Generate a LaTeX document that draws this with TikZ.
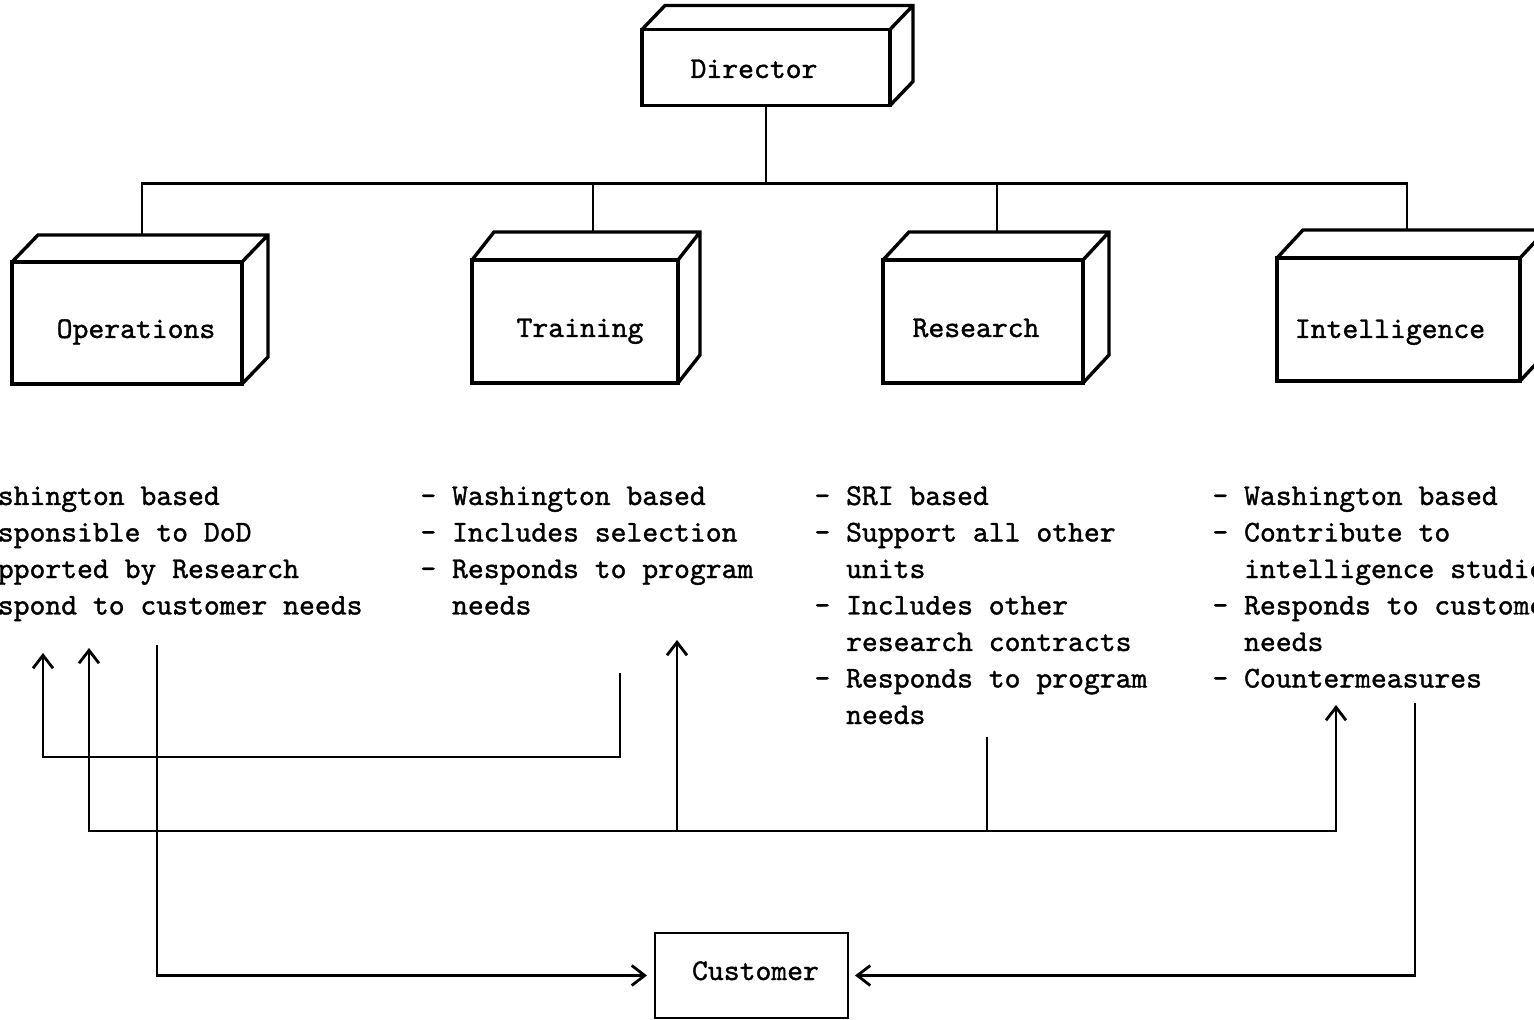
\documentclass[tikz,border=0pt]{standalone}
\usepackage{fontspec}
\newfontfamily\typew{lmmono10-regular.otf}[FakeBold=1.2]
\usetikzlibrary{arrows.meta,calc}
\newcommand\mkdepth[3]{\draw[boxline] (#1.north west) -- ++(#2,#3) -- ($(#1.north east)+(#2,#3)$) -- ($(#1.south east)+(#2,#3)$) -- (#1.south east) (#1.north east) -- ++(#2,#3);}
\begin{document}
\begin{tikzpicture}[x=0.5pt,y=-0.5pt,
  tt/.style={font=\typew\fontsize{15.1}{18.25}\selectfont},
  boxline/.style={line width=1.7pt,line join=miter},
  unitbox/.style={draw,boxline,tt,inner sep=0pt,outer sep=0pt,text depth=0pt},
  block/.style={tt,anchor=base west,inner sep=0pt},
  conn/.style={line width=1.4pt},
  arr/.style={conn,-{Straight Barb[length=6.5pt,width=10pt,line width=1.4pt]}}]
\useasboundingbox (0,0) rectangle (1534,1020);
\clip (0,0) rectangle (1534,1020);

% unit boxes (front faces)
\node[unitbox,minimum width=124pt,minimum height=38pt,text height=10.5pt] (dir) at (766,67.5) {Director\hspace*{12pt}};
\node[unitbox,minimum width=115pt,minimum height=61pt,text height=15pt] (ops) at (127,323) {\hspace*{9pt}Operations};
\node[unitbox,minimum width=103pt,minimum height=61.5pt,text height=15.5pt] (trn) at (575,321.5) {\hspace*{5pt}Training};
\node[unitbox,minimum width=100pt,minimum height=61.5pt,text height=15.5pt] (res) at (983,321.5) {Research\hspace*{7pt}};
\node[unitbox,minimum width=121.5pt,minimum height=61.5pt,text height=18.5pt] (intl) at (1398.5,319.5) {Intelligence\hspace*{8.5pt}};
\node[draw,conn,tt,inner sep=0pt,outer sep=0pt,text depth=0pt,minimum width=96.5pt,minimum height=42.5pt,text height=4.5pt] (cust) at (751.5,975.5) {\hspace*{4pt}Customer};

% 3-D depth faces
\mkdepth{dir}{23}{-24}
\mkdepth{ops}{26}{-27}
\mkdepth{trn}{22}{-28}
\mkdepth{res}{26}{-28}
\mkdepth{intl}{26}{-28}

% organisation tree
\coordinate (hub) at ($(dir.south)+(0,78)$);
\coordinate (opsTop) at ($(ops.north west)+(130,-27)$);
\coordinate (trnTop) at ($(trn.north west)+(121,-28)$);
\coordinate (resTop) at ($(res.north west)+(114,-28)$);
\coordinate (intTop) at ($(intl.north west)+(130,-28)$);
\draw[conn] (dir.south) -- (hub);
\draw[conn] (opsTop) |- (hub) -| (intTop);
\draw[conn] (trnTop) -- (trnTop |- hub);
\draw[conn] (resTop) -- (resTop |- hub);

% descriptions
\node[block] (opsT) at (-66,505) {\begin{tabular}[t]{@{}l@{}l@{}}-\ \null&Washington based\\-\ \null&Responsible to DoD\\-\ \null&Supported by Research\\-\ \null&Respond to customer needs\end{tabular}};
\node[block] (trnT) at (420,505) {\begin{tabular}[t]{@{}l@{}l@{}}-\ \null&Washington based\\-\ \null&Includes selection\\-\ \null&Responds to program\\&needs\end{tabular}};
\node[block] (resT) at (814,505) {\begin{tabular}[t]{@{}l@{}l@{}}-\ \null&SRI based\\-\ \null&Support all other\\&units\\-\ \null&Includes other\\&research contracts\\-\ \null&Responds to program\\&needs\end{tabular}};
\node[block] (intT) at (1212,505) {\begin{tabular}[t]{@{}l@{}l@{}}-\ \null&Washington based\\-\ \null&Contribute to\\&intelligence studies\\-\ \null&Responds to customer\\&needs\\-\ \null&Countermeasures\end{tabular}};

% flow connectors
\coordinate (opsOut) at (157,645);
\coordinate (intOut) at (1415,703);
\coordinate (resOut) at (987,737);
\coordinate (trnOut) at (620,673);
\coordinate (opsIn1) at (43,653);
\coordinate (opsIn2) at (89,648);
\coordinate (trnIn) at (677,640);
\coordinate (intIn) at (1336,705);
\coordinate (resBus) at (987,831);

\draw[arr,shorten >=4pt] (opsOut) |- (cust.west);
\draw[arr,shorten >=3.5pt] (intOut) |- (cust.east);
\draw[conn] (resOut) -- (resBus);
\draw[arr] (resBus) -| (opsIn2);
\draw[arr] (resBus) -| (intIn);
\draw[arr] (trnIn |- resBus) -- (trnIn);
\draw[arr] (trnOut) -- ++(0,84) -| (opsIn1);
\end{tikzpicture}
\end{document}
